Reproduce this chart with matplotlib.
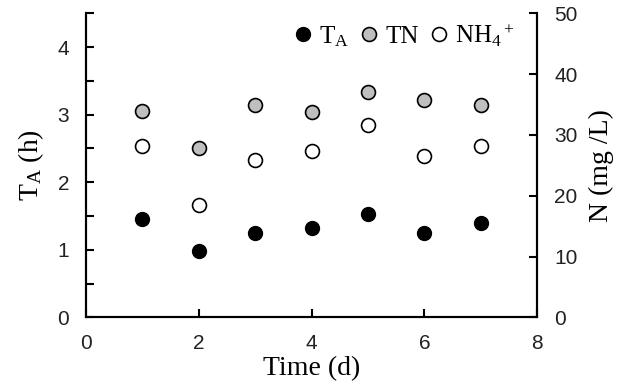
import matplotlib
matplotlib.use('Agg')
import matplotlib.pyplot as plt
from matplotlib.ticker import MultipleLocator

# Werte
days = [1, 2, 3, 4, 5, 6, 7]
t_a = [1.45, 0.98, 1.25, 1.32, 1.53, 1.25, 1.39]
tn = [33.9, 27.9, 35.0, 33.8, 37.1, 35.7, 34.9]
nh4 = [28.2, 18.5, 25.9, 27.3, 31.6, 26.6, 28.1]

plt.rcParams['mathtext.fontset'] = 'custom'
plt.rcParams['mathtext.rm'] = 'Liberation Serif'
plt.rcParams['mathtext.it'] = 'Liberation Serif'
tick_font = 'Liberation Sans'
label_font = 'Liberation Serif'

fig = plt.figure(figsize=(6.23, 3.89), dpi=100)
ax = fig.add_axes([0.138, 0.1843, 0.7245, 0.7815])
ax2 = ax.twinx()

ms = 10
h1, = ax.plot(days, t_a, 'o', color='black', markeredgecolor='black', markersize=ms, label=r'T$_\mathrm{A}$')
h2, = ax2.plot(days, tn, 'o', color='#bfbfbf', markeredgecolor='black', markeredgewidth=1.2, markersize=ms, label='TN')
h3, = ax2.plot(days, nh4, 'o', color='white', markeredgecolor='black', markeredgewidth=1.2, markersize=ms, label=r'NH$_4{}^+$')

ax.set_xlim(0, 8)
ax.set_ylim(0, 4.5)
ax2.set_ylim(0, 50)
ax.xaxis.set_major_locator(MultipleLocator(2))
ax.yaxis.set_major_locator(MultipleLocator(1))
ax.yaxis.set_minor_locator(MultipleLocator(0.5))
ax2.yaxis.set_major_locator(MultipleLocator(10))

for a in (ax, ax2):
    a.spines['top'].set_visible(False)
    for s in a.spines.values():
        s.set_linewidth(1.5)
ax.tick_params(axis='both', which='major', direction='in', length=6, width=1.5, pad=12, labelsize=15)
ax.tick_params(axis='y', which='minor', direction='in', length=6, width=1.5)
ax2.tick_params(axis='y', which='major', direction='in', length=6, width=1.5, pad=12, labelsize=15)
for lab in ax.get_xticklabels() + ax.get_yticklabels() + ax2.get_yticklabels():
    lab.set_fontfamily(tick_font)
    lab.set_color('#222222')

ax.set_xlabel('Time (d)', fontfamily=label_font, fontsize=20, labelpad=2)
ax.set_ylabel(r'T$_\mathrm{A}$ (h)', fontfamily=label_font, fontsize=20, labelpad=8)
ax2.set_ylabel('N (mg /L)', fontfamily=label_font, fontsize=20, labelpad=8)

leg = ax2.legend(handles=[h1, h2, h3], ncol=3, frameon=False, loc='upper right',
                 bbox_to_anchor=(1.0, 1.045), handletextpad=0.15, columnspacing=0.3,
                 handlelength=1.0, prop={'family': label_font, 'size': 18})

fig.savefig('out.png', dpi=100)
